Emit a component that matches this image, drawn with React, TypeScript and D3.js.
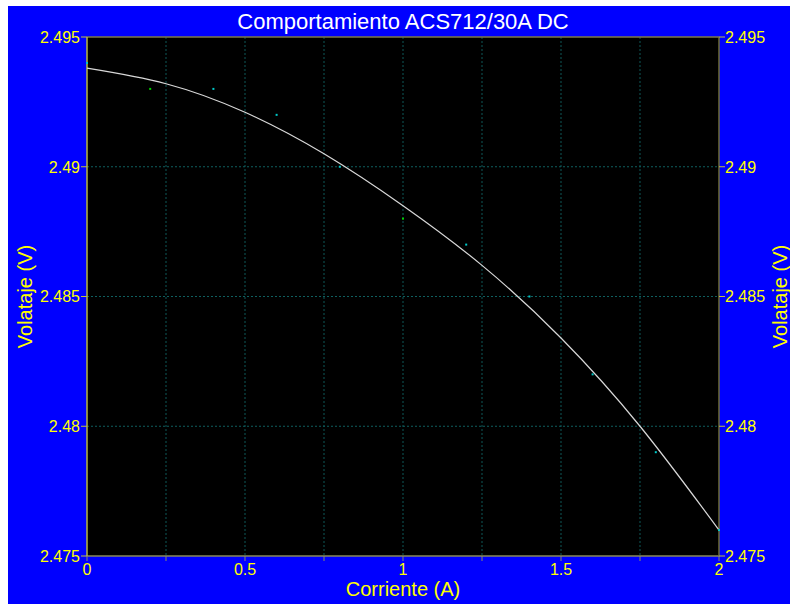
import React from 'react';
import * as d3 from 'd3';

// measured points: current (A) vs output voltage (V)
const currents = [0, 0.2, 0.4, 0.6, 0.8, 1.0, 1.2, 1.4, 1.6, 1.8, 2.0];
const voltages = [2.494, 2.493, 2.493, 2.492, 2.49, 2.488, 2.487, 2.485, 2.482, 2.479, 2.476];

// trend line
const trendX = [0, 0.25, 0.5, 0.75, 1.0, 1.25, 1.5, 1.75, 2.0];
const trendY = [2.4938, 2.4932, 2.4921, 2.4905, 2.4885, 2.4862, 2.4834, 2.48, 2.476];

const xTicks = [0, 0.25, 0.5, 0.75, 1, 1.25, 1.5, 1.75, 2];
const xLabels = [0, 0.5, 1, 1.5, 2];
const yTicks = [2.475, 2.48, 2.485, 2.49, 2.495];

const W = 790;
const H = 604;
const margin = { top: 37, right: 71, bottom: 48, left: 87 };
const font = '"Liberation Sans", Arial, sans-serif';

const App = () => {
  const x = d3.scaleLinear().domain([0, 2]).range([margin.left, W - margin.right]);
  const y = d3.scaleLinear().domain([2.475, 2.495]).range([H - margin.bottom, margin.top]);

  const [x0, x1] = x.range();
  const [y0, y1] = y.range();

  const line = d3.line<number>()
    .x((d, i) => x(trendX[i]))
    .y(d => y(d))
    .curve(d3.curveNatural);

  const fmt = (v: number) => String(+v.toFixed(3));

  return (
    <svg width={W} height={H} style={{ position: 'absolute', left: 0, top: 0 }} fontFamily={font}>
      <rect x={8} y={6} width={W - 8} height={H - 6} fill="#0000ff" />
      <rect x={x0} y={y1} width={x1 - x0} height={y0 - y1} fill="#000" />

      {/* grid */}
      {xTicks.slice(1, -1).map(t => (
        <line key={'gx' + t} x1={x(t)} x2={x(t)} y1={y1} y2={y0}
          stroke="#0f5858" strokeDasharray="2,2" />
      ))}
      {yTicks.slice(1, -1).map(t => (
        <line key={'gy' + t} x1={x0} x2={x1} y1={y(t)} y2={y(t)}
          stroke="#0f5f5f" strokeDasharray="2,2" />
      ))}

      {/* frame */}
      <line x1={x0} x2={x1} y1={y1} y2={y1} stroke="#7c7a48" strokeWidth={1.5} />
      <line x1={x0} x2={x1} y1={y0} y2={y0} stroke="#8a8a5a" strokeWidth={1.5} />
      <line x1={x1} x2={x1} y1={y1} y2={y0} stroke="#6e6e36" strokeWidth={1.5} />
      <line x1={x0} x2={x0} y1={y1} y2={y0} stroke="#b8b840" strokeWidth={1.5} />

      {/* x ticks */}
      {xTicks.map(t => (
        <line key={'tx' + t} x1={x(t)} x2={x(t)} y1={y0} y2={y0 + 5} stroke="#8a8a6a" />
      ))}
      {xLabels.map(t => (
        <text key={'lx' + t} x={x(t)} y={y0 + 19} textAnchor="middle" fontSize={16} fill="#ffff00">
          {fmt(t)}
        </text>
      ))}

      {/* y ticks both sides */}
      {yTicks.map(t => (
        <g key={'ty' + t}>
          <line x1={x0 - 6} x2={x0} y1={y(t)} y2={y(t)} stroke="#c0c040" />
          <line x1={x1} x2={x1 + 6} y1={y(t)} y2={y(t)} stroke="#c0c040" />
          <text x={x0 - 7} y={y(t)} dy="0.36em" textAnchor="end" fontSize={16} fill="#ffff00">{fmt(t)}</text>
          <text x={x1 + 6} y={y(t)} dy="0.36em" textAnchor="start" fontSize={16} fill="#ffff00">{fmt(t)}</text>
        </g>
      ))}

      {/* trend */}
      <path d={line(trendY) || ''} fill="none" stroke="#d8d8d8" strokeWidth={1.2} />

      {/* points */}
      {currents.map((c, i) => (
        <rect key={'p' + i} x={x(c) - 1} y={y(voltages[i]) - 1} width={2} height={2}
          fill={i === 1 || i === 5 ? '#00d000' : '#00c8c8'} />
      ))}

      {/* titles */}
      <text x={403} y={29} textAnchor="middle" fontSize={22} fill="#ffffff">Comportamiento ACS712/30A DC</text>
      <text x={(x0 + x1) / 2} y={596} textAnchor="middle" fontSize={20} fill="#ffff00">Corriente (A)</text>
      <text transform={`translate(32,${(y0 + y1) / 2}) rotate(-90)`} textAnchor="middle" fontSize={20} fill="#ffff00">Volataje (V)</text>
      <text transform={`translate(787,${(y0 + y1) / 2}) rotate(-90)`} textAnchor="middle" fontSize={20} fill="#ffff00">Volataje (V)</text>
    </svg>
  );
};

export default App;
